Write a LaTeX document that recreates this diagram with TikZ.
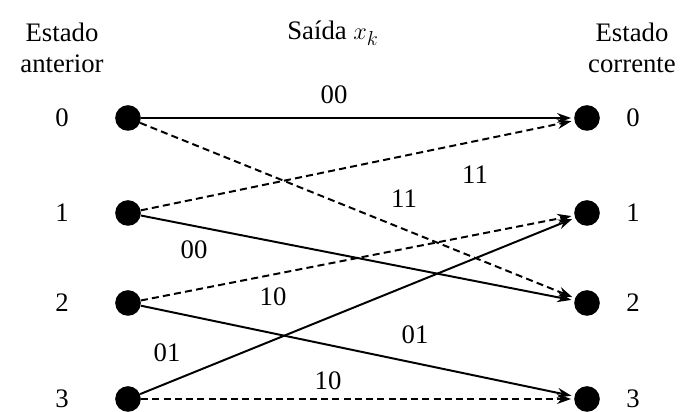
\documentclass[tikz,border=0pt]{standalone}
\usepackage{fontspec}
\setmainfont{Liberation Serif}
\usetikzlibrary{arrows.meta}
\tikzset{
  dot/.style={circle,fill=black,inner sep=0pt,minimum width=0.6cm,minimum height=0.64cm},
  num/.style={font=\fontsize{19}{22}\selectfont},
  lab/.style={font=\fontsize{19}{22}\selectfont},
  head/.style={font=\fontsize{19}{22}\selectfont,align=center},
  edge/.style={line width=1.4pt,-{Stealth[length=10pt,width=7pt]},shorten >=2pt},
  dashedge/.style={edge,dash pattern=on 5pt off 3pt}
}
\begin{document}
\begin{tikzpicture}[x=0.025cm,y=-0.025cm]
  \useasboundingbox (0,0) rectangle (680,412);
  % header
  \node[head] (hl) at (62,48) {Estado\\anterior};
  \node[head] (hm) at (333,33) {Saída $x_k$};
  \node[head] (hr) at (632,48) {Estado\\corrente};
  % states
  \foreach \s/\y in {0/118,1/213,2/303,3/399} {
    \node[dot] (l\s) at (128,\y) {};
    \node[dot] (r\s) at (587,\y) {};
    \node[num] (ln\s) at (62,\y) {\s};
    \node[num] (rn\s) at (633,\y) {\s};
  }
  % transitions
  \foreach \a/\b/\st in {0/0/edge,0/2/dashedge,1/0/dashedge,1/2/edge,2/1/dashedge,2/3/edge,3/1/edge,3/3/dashedge}
    \draw[\st] (l\a) -- (r\b);
  % outputs
  \foreach \t/\x/\y [count=\n] in {00/334/95,11/404/199,11/475/175,00/194/250,10/273/297,01/415/335,01/167/353,10/328/381}
    \node[lab] (o\n) at (\x,\y) {\t};
\end{tikzpicture}
\end{document}
